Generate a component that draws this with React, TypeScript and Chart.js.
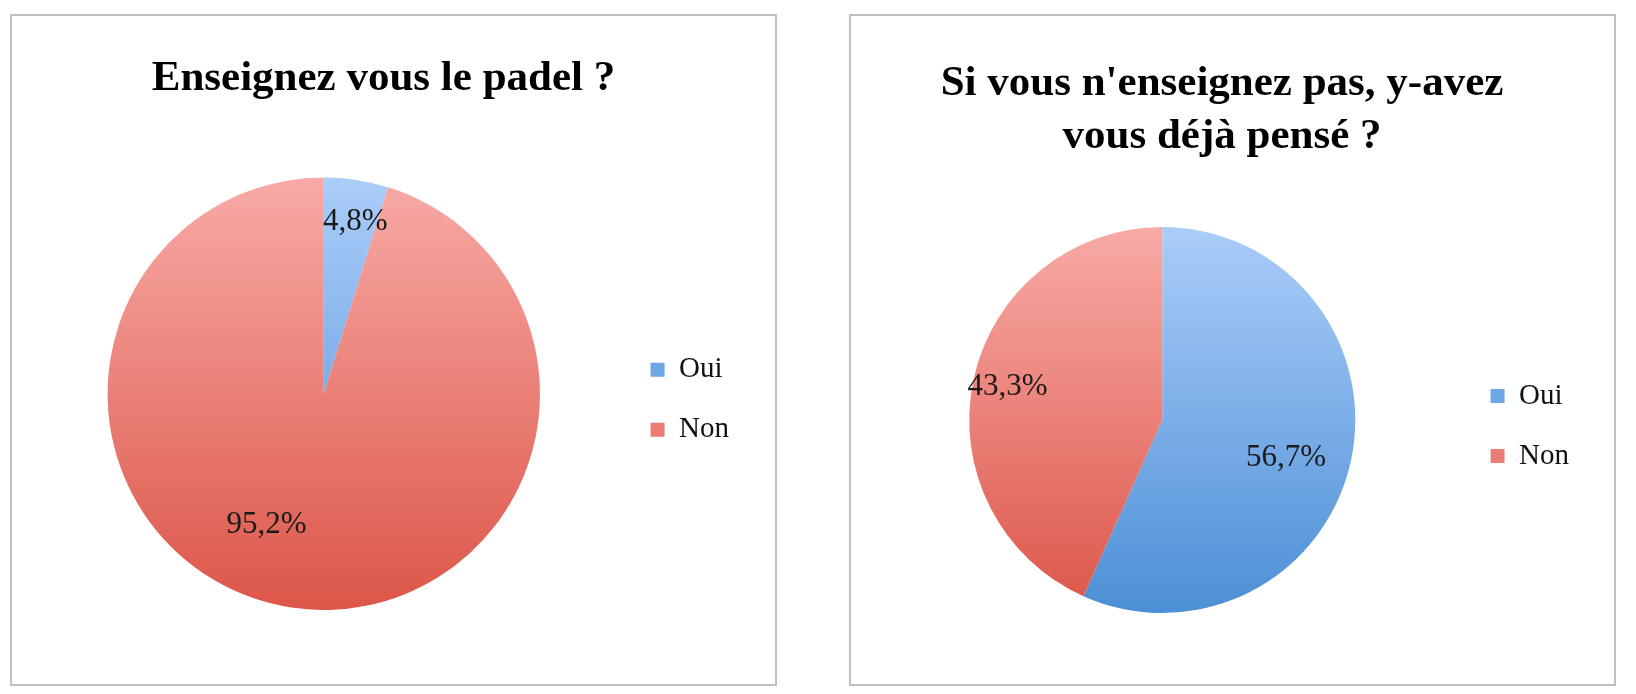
import React, { useEffect, useRef } from "react";
import { Chart, registerables } from "chart.js";

Chart.register(...registerables);

// ---- data ----
const categories = ["Oui", "Non"];
const chart1Title = ["Enseignez vous le padel ?"];
const chart1Values = [4.8, 95.2];
const chart2Title = ["Si vous n'enseignez pas, y-avez", "vous déjà pensé ?"];
const chart2Values = [56.7, 43.3];

// ---- style ----
const BLUE_TOP = "#abcdf9";
const BLUE_BOTTOM = "#4c8fd6";
const RED_TOP = "#f8aaa6";
const RED_BOTTOM = "#dc5649";
const SERIF = "'Liberation Serif', 'Times New Roman', serif";
const TEXT_COLOR = "#111";

const fmt = (v: number) => v.toFixed(1).replace(".", ",") + "%";

function makeGradient(chart: any, top: string, bottom: string) {
  const area = chart.chartArea;
  if (!area) return top;
  const meta = chart.getDatasetMeta(0);
  const arc: any = meta && meta.data && meta.data[0];
  let y0 = area.top;
  let y1 = area.bottom;
  if (arc && arc.outerRadius) {
    y0 = arc.y - arc.outerRadius;
    y1 = arc.y + arc.outerRadius;
  }
  const g = chart.ctx.createLinearGradient(0, y0, 0, y1);
  g.addColorStop(0, top);
  g.addColorStop(1, bottom);
  return g;
}

const labelPlugin = {
  id: "pctLabels",
  afterDatasetsDraw(chart: any, _args: any, opts: any) {
    const ctx = chart.ctx;
    const meta = chart.getDatasetMeta(0);
    const data = chart.data.datasets[0].data as number[];
    ctx.save();
    ctx.font = `31px ${SERIF}`;
    ctx.fillStyle = "#1a1a1a";
    ctx.textAlign = "center";
    ctx.textBaseline = "middle";
    meta.data.forEach((arc: any, i: number) => {
      const mid = (arc.startAngle + arc.endAngle) / 2 + ((opts.shift?.[i] || 0) * Math.PI) / 180;
      const r = arc.outerRadius * (opts.radius?.[i] ?? 0.75);
      ctx.fillText(fmt(data[i]), arc.x + Math.cos(mid) * r, arc.y + Math.sin(mid) * r);
    });
    ctx.restore();
  },
};

type PanelProps = {
  left: number;
  title: string[];
  values: number[];
  titlePad: { top: number; bottom: number };
  lineHeight: number;
  layoutPad: { left: number; right: number; top: number; bottom: number };
  legendPad: number;
  labelRadius: number[];
  labelShift: number[];
};

function PiePanel(p: PanelProps) {
  const ref = useRef<HTMLCanvasElement>(null);
  useEffect(() => {
    if (!ref.current) return;
    const chart = new Chart(ref.current, {
      type: "pie",
      data: {
        labels: categories,
        datasets: [
          {
            data: p.values,
            borderWidth: 0,
            backgroundColor: (c: any) => {
              const i = c.dataIndex;
              return i === 0
                ? makeGradient(c.chart, BLUE_TOP, BLUE_BOTTOM)
                : makeGradient(c.chart, RED_TOP, RED_BOTTOM);
            },
          },
        ],
      },
      options: {
        animation: false,
        responsive: false,
        maintainAspectRatio: false,
        layout: { padding: p.layoutPad },
        plugins: {
          tooltip: { enabled: false },
          title: {
            display: true,
            text: p.title,
            color: "#000",
            font: { family: SERIF, size: 43, weight: "bold", lineHeight: p.lineHeight },
            padding: p.titlePad,
          },
          legend: {
            display: true,
            position: "right",
            fullSize: false,
            title: { display: true, text: "", color: TEXT_COLOR, font: { size: 10, lineHeight: 1.2 }, padding: 0 },
            labels: {
              color: TEXT_COLOR,
              font: { family: SERIF, size: 29 },
              boxWidth: 14,
              boxHeight: 14,
              padding: p.legendPad,
              generateLabels: () =>
                categories.map((c, i) => ({
                  text: c,
                  fillStyle: i === 0 ? "#6ea6e6" : "#ec7d76",
                  strokeStyle: "rgba(0,0,0,0)",
                  fontColor: TEXT_COLOR,
                  lineWidth: 0,
                  hidden: false,
                  index: i,
                })),
            },
          },
          pctLabels: { radius: p.labelRadius, shift: p.labelShift },
        } as any,
      },
      plugins: [labelPlugin],
    });
    return () => chart.destroy();
  }, []);
  return (
    <div
      style={{
        position: "absolute",
        left: p.left,
        top: 6,
        width: 763,
        height: 668,
        border: "2px solid #c0c0c0",
        background: "#fff",
      }}
    >
      <canvas ref={ref} width={763} height={668} style={{ display: "block" }} />
    </div>
  );
}

export default function App() {
  return (
    <div style={{ position: "relative", width: 1620, height: 680 }}>
      <PiePanel
        left={2}
        title={chart1Title}
        values={chart1Values}
        titlePad={{ top: 37, bottom: 73 }}
        lineHeight={1.2}
        layoutPad={{ left: 16, right: 36, top: 0, bottom: 74 }}
        legendPad={31}
        labelRadius={[0.81, 0.66]}
        labelShift={[1.7, 15]}
      />
      <PiePanel
        left={841}
        title={chart2Title}
        values={chart2Values}
        titlePad={{ top: 42, bottom: 64 }}
        lineHeight={1.22}
        layoutPad={{ left: 14, right: 35, top: 0, bottom: 71 }}
        legendPad={31}
        labelRadius={[0.67, 0.82]}
        labelShift={[5, 0]}
      />
    </div>
  );
}
